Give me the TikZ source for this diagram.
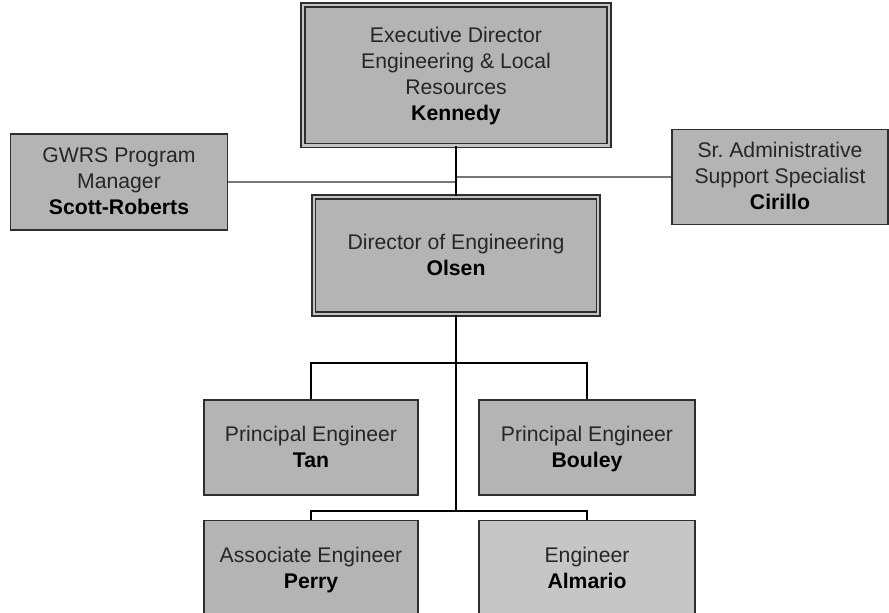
\documentclass[tikz,border=0pt]{standalone}
\usepackage{fontspec}
\setmainfont{Liberation Sans}
\frenchspacing
% extra head-room on the first line of each box, to sit the text block a little lower
\newcommand{\firstline}{\rule{0pt}{21.2pt}}
\begin{document}
\definecolor{boxline}{HTML}{2E2E2E}
\definecolor{boxfill}{HTML}{B4B4B4}
\definecolor{lightfill}{HTML}{C6C6C6}
\definecolor{sideline}{HTML}{777777}
\definecolor{titletext}{HTML}{262626}
\begin{tikzpicture}[x=1pt,y=-1pt,
  orgbox/.style={draw=boxline, line width=1.6pt, fill=boxfill, inner sep=0pt,
    align=center, text=titletext, font=\fontsize{21.2}{26}\selectfont},
  headbox/.style={orgbox, line width=1.5pt, double=boxfill!80!white, double distance=2.4pt},
  link/.style={draw=black, line width=1.7pt},
  sidelink/.style={draw=sideline, line width=2.6pt}]
\useasboundingbox (0,0) rectangle (889,613);

% boxes: executive level
\node[headbox, minimum width=306pt, minimum height=140.5pt] (ken) at (456,75.25)
  {\firstline Executive Director\\Engineering \& Local\\Resources\\\textcolor{black}{\bfseries Kennedy}\strut};
\node[orgbox, minimum width=217pt, minimum height=96pt] (scott) at (119,182)
  {\firstline GWRS Program\\Manager\\\textcolor{black}{\bfseries Scott-Roberts}\strut};
\node[orgbox, minimum width=216pt, minimum height=95pt] (cir) at (780,177)
  {\firstline Sr. Administrative\\Support Specialist\\\textcolor{black}{\bfseries Cirillo}\strut};
\node[headbox, minimum width=284.5pt, minimum height=117pt] (ols) at (456,255.5)
  {\firstline Director of Engineering\\\textcolor{black}{\bfseries Olsen}\strut};

% boxes: engineering staff
\node[orgbox, minimum width=214pt, minimum height=95pt] (tan) at (311,447.5)
  {\firstline Principal Engineer\\\textcolor{black}{\bfseries Tan}\strut};
\node[orgbox, minimum width=216pt, minimum height=95pt] (bou) at (587,447.5)
  {\firstline Principal Engineer\\\textcolor{black}{\bfseries Bouley}\strut};
\node[orgbox, minimum width=214pt, minimum height=97pt] (per) at (311,569)
  {\firstline Associate Engineer\\\textcolor{black}{\bfseries Perry}\strut};
\node[orgbox, fill=lightfill, minimum width=216pt, minimum height=97pt] (alm) at (587,569)
  {\firstline Engineer\\\textcolor{black}{\bfseries Almario}\strut};

% junction points on the trunk line
\coordinate (j1) at (456,363);
\coordinate (j2) at (456,511);

% connectors
\draw[sidelink] (scott.east) -- (scott.east -| ken.south);
\draw[sidelink] (cir.west) -- (cir.west -| ken.south);
\draw[link] (ken.south) -- (ken.south |- ols.north);
\draw[link] (ols.south) -- (j2);
\draw[link] (tan.north) |- (j1) -| (bou.north);
\draw[link] (per.north) |- (j2) -| (alm.north);
\end{tikzpicture}
\end{document}
